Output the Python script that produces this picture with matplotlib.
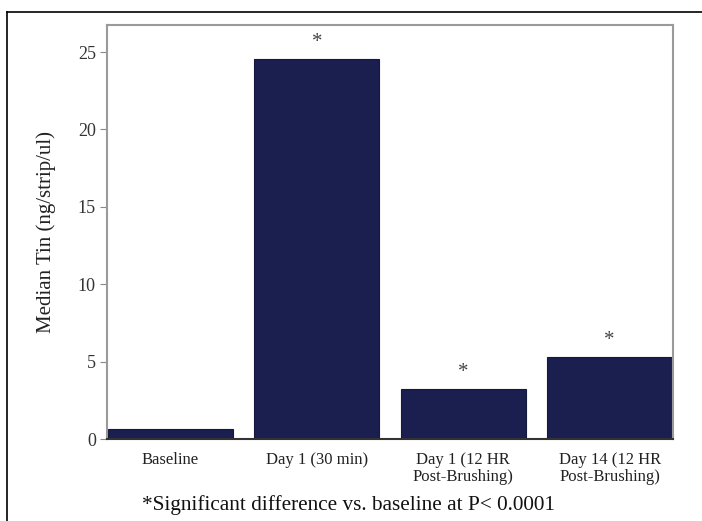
import matplotlib
matplotlib.use("Agg")
import matplotlib.pyplot as plt
from matplotlib.lines import Line2D

# data
categories = ["Baseline", "Day 1 (30 min)", "Day 1 (12 HR\nPost-Brushing)", "Day 14 (12 HR\nPost-Brushing)"]
median_tin = [0.65, 24.55, 3.23, 5.30]
significant = [False, True, True, True]

plt.rcParams['font.family'] = ['Liberation Serif', 'DejaVu Serif']

fig = plt.figure(figsize=(7.02, 5.21), dpi=100)
ax = fig.add_axes([107 / 702, 1 - 439 / 521, 566 / 702, 414 / 521])

x = list(range(len(categories)))
ax.bar(x, median_tin, width=0.853, color='#1b1f4f', edgecolor='#15183d', linewidth=0.8)

# asterisks above significant bars
for xi, v, sig in zip(x, median_tin, significant):
    if sig:
        ax.text(xi, v + 0.45, '*', ha='center', va='bottom', fontsize=15, color='#444444')

ax.set_xlim(-0.433, 3.433)
ax.set_ylim(0, 26.75)
ax.set_yticks([0, 5, 10, 15, 20, 25])
ax.set_xticks(x)
ax.set_xticklabels(categories, fontsize=12, color='#222222', linespacing=1.1)
ax.tick_params(axis='x', length=0, pad=9)
ax.tick_params(axis='y', length=5, color='#888888', labelsize=13, labelcolor='#333333', pad=3)

for side in ['top', 'left', 'right']:
    ax.spines[side].set_color('#9a9a9a')
    ax.spines[side].set_linewidth(1.5)
ax.spines['bottom'].set_color('#333333')
ax.spines['bottom'].set_linewidth(1.5)

ax.set_ylabel('Median Tin (ng/strip/ul)', fontsize=15, color='#222222', labelpad=16)

fig.text(349 / 702, 1 - 505 / 521, '*Significant difference vs. baseline at P< 0.0001',
         ha='center', va='center', fontsize=15.3, color='#111111')

# outer frame (top and left edges)
fig.add_artist(Line2D([7 / 702, 1.0], [1 - 12 / 521, 1 - 12 / 521], color='black', linewidth=1.2))
fig.add_artist(Line2D([7 / 702, 7 / 702], [0.0, 1 - 12 / 521], color='black', linewidth=1.2))

fig.savefig('out.png', dpi=100)
